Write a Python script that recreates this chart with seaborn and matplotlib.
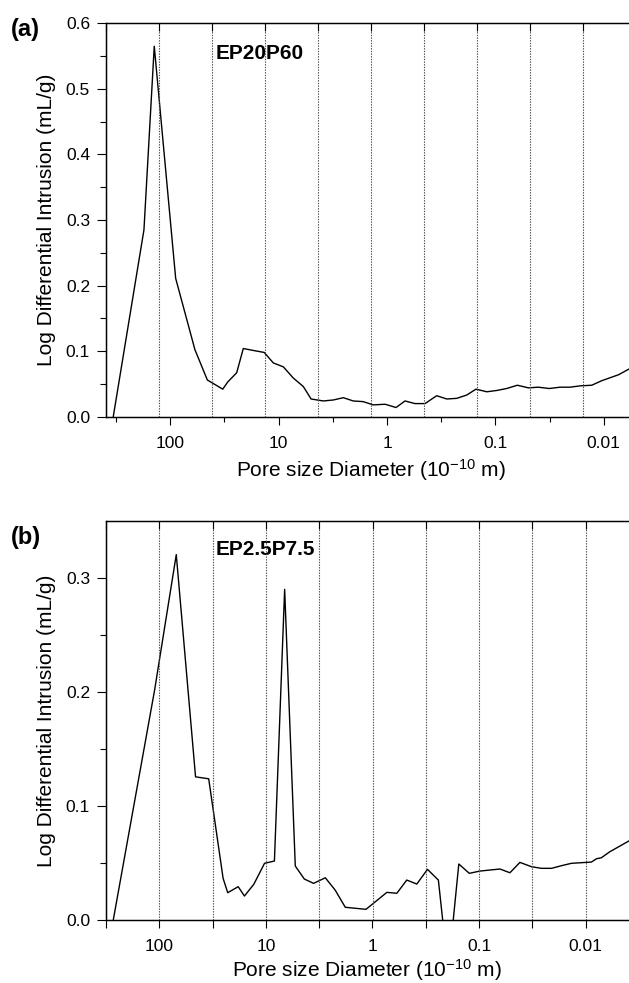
import numpy as np
import pandas as pd
import matplotlib
matplotlib.use("Agg")
import matplotlib.pyplot as plt
import matplotlib.ticker as mticker
import seaborn as sns

# Pore size diameter (10^-10 m) vs log differential intrusion (mL/g)
a_diameter = [336, 175, 140.6, 89.2, 59.2, 45.5, 32.8, 29.5, 24.4, 21.2, 17.1, 13.6,
              11.2, 9.05, 7.33, 5.92, 5.02, 3.87, 3.13, 2.53, 2.05, 1.66, 1.34, 1.04,
              0.826, 0.682, 0.552, 0.446, 0.348, 0.281, 0.227, 0.184, 0.151, 0.120,
              0.0972, 0.0786, 0.0627, 0.0496, 0.0402, 0.0318, 0.0253, 0.0205, 0.0166,
              0.0129, 0.0104, 0.0073, 0.0058, 0.005]
a_intrusion = [0.0, 0.285, 0.565, 0.211, 0.102, 0.056, 0.042, 0.053, 0.067, 0.104, 0.101, 0.098,
               0.082, 0.076, 0.059, 0.046, 0.027, 0.024, 0.0255, 0.029, 0.024, 0.023, 0.018, 0.019,
               0.014, 0.024, 0.020, 0.020, 0.032, 0.027, 0.028, 0.033, 0.042, 0.038,
               0.040, 0.043, 0.048, 0.044, 0.045, 0.043, 0.045, 0.045, 0.047,
               0.048, 0.055, 0.064, 0.073, 0.078]

b_diameter = [270, 110.7, 69.3, 45.7, 34.4, 25.2, 22.8, 18.2, 15.9, 13.0, 10.3, 8.32,
              6.67, 5.30, 4.36, 3.57, 2.77, 2.24, 1.80, 1.15, 0.733, 0.591, 0.477, 0.384,
              0.305, 0.241, 0.195, 0.155, 0.1236, 0.0982, 0.0637, 0.0514, 0.0414, 0.0322,
              0.0260, 0.0209, 0.0169, 0.0136, 0.00883, 0.00793, 0.00712, 0.00595, 0.0039, 0.0033]
b_intrusion = [0.0, 0.2015, 0.3205, 0.1254, 0.1237, 0.0363, 0.0237, 0.029, 0.0208, 0.031, 0.0495, 0.0515,
               0.290, 0.0471, 0.0357, 0.0319, 0.0368, 0.026, 0.0109, 0.0091, 0.024, 0.0232, 0.0348, 0.0313,
               0.0442, 0.0348, -0.045, 0.0489, 0.0407, 0.0427, 0.0445, 0.0412, 0.0503, 0.0465,
               0.0451, 0.0451, 0.0474, 0.0495, 0.0506, 0.0535, 0.0544, 0.0596, 0.0693, 0.073]

decade_ticks = [100, 10, 1, 0.1, 0.01]
decade_labels = ["100", "10", "1", "0.1", "0.01"]
half_decade_ticks = [316.2, 31.62, 3.162, 0.3162, 0.03162, 0.003162]

sns.set_style("ticks", {"axes.edgecolor": "black", "xtick.color": "black",
                        "ytick.color": "black", "text.color": "black",
                        "axes.labelcolor": "black"})
plt.rcParams["font.family"] = ["Liberation Sans", "DejaVu Sans"]
plt.rcParams["mathtext.fontset"] = "custom"
plt.rcParams["mathtext.rm"] = "Liberation Sans"
plt.rcParams["mathtext.it"] = "Liberation Sans:italic"
plt.rcParams["mathtext.bf"] = "Liberation Sans:bold"

W, H = 629, 983
fig = plt.figure(figsize=(W / 100, H / 100), dpi=100)
ax_a = fig.add_axes([106 / W, 1 - 416.7 / H, 530 / W, 393.4 / H])
ax_b = fig.add_axes([106 / W, 1 - 919.7 / H, 533 / W, 398.7 / H])


def draw_panel(ax, diam, intr, xlim, ylim, yticks, yminor, name, name_y, minor_len):
    df = pd.DataFrame({"diameter": diam, "intrusion": intr})
    ax.set_xscale("log")
    sns.lineplot(data=df, x="diameter", y="intrusion", ax=ax, color="black",
                 linewidth=1.0, sort=False, estimator=None)
    ax.set_xticks(decade_ticks, labels=decade_labels)
    ax.set_xticks(half_decade_ticks, minor=True)
    ax.xaxis.set_minor_formatter(mticker.NullFormatter())
    ax.set_yticks(yticks, labels=[f"{v:.1f}" for v in yticks])
    ax.set_yticks(yminor, minor=True)
    # limits last, so the tick calls cannot widen them
    ax.set_xlim(*xlim)
    ax.set_ylim(*ylim)
    ax.tick_params(axis="x", which="major", direction="out", length=6, width=0.8,
                   pad=8, labelsize=12.5)
    ax.tick_params(axis="x", which="minor", direction="out", length=minor_len, width=0.8)
    ax.tick_params(axis="y", which="major", direction="out", length=6.7, width=0.8,
                   pad=4.8, labelsize=12.5)
    ax.tick_params(axis="y", which="minor", direction="out", length=4.3, width=0.8)
    for s in ax.spines.values():
        s.set_linewidth(0.9)
    ax.set_xlabel(r"Pore size Diameter (10$^{-10}$ m)", fontsize=15)
    ax.set_ylabel("Log Differential Intrusion (mL/g)", fontsize=15)
    ax.xaxis.label.set_va("baseline")
    ax.yaxis.label.set_va("baseline")
    ax.text(0.206, name_y, name, transform=ax.transAxes, fontsize=15,
            fontweight="bold", ha="left", va="baseline")

    # top axis with ten even divisions, dotted guide lines
    top = ax.twiny()
    top.set_xlim(0, 10)
    top.set_xticks(np.arange(11))
    top.set_xlim(0, 10)
    top.tick_params(axis="x", direction="in", length=6, width=0.8, labeltop=False)
    top.grid(True, axis="x", linestyle=(0, (1.2, 1.2)), color="0.3", linewidth=0.8)
    for s in top.spines.values():
        s.set_linewidth(0.9)
    return top


draw_panel(ax_a, a_diameter, a_intrusion, (392, 0.00504), (0, 0.6),
           [0, 0.1, 0.2, 0.3, 0.4, 0.5, 0.6],
           [0.05, 0.15, 0.25, 0.35, 0.45, 0.55], "EP20P60", 0.9085, 3.5)
ax_a.xaxis.set_label_coords(0.499, -0.1525)
ax_a.yaxis.set_label_coords(-0.1025, 0.5)

draw_panel(ax_b, b_diameter, b_intrusion, (316.2, 0.003162), (0, 0.35),
           [0, 0.1, 0.2, 0.3], [0.05, 0.15, 0.25], "EP2.5P7.5", 0.9147, 6)
ax_b.xaxis.set_label_coords(0.49, -0.1425)
ax_b.yaxis.set_label_coords(-0.1019, 0.5)

fig.text(0.017, 1 - 36 / H, "(a)", fontsize=17, fontweight="bold", va="baseline")
fig.text(0.017, 1 - 544 / H, "(b)", fontsize=17, fontweight="bold", va="baseline")

fig.savefig("out.png", dpi=100)
